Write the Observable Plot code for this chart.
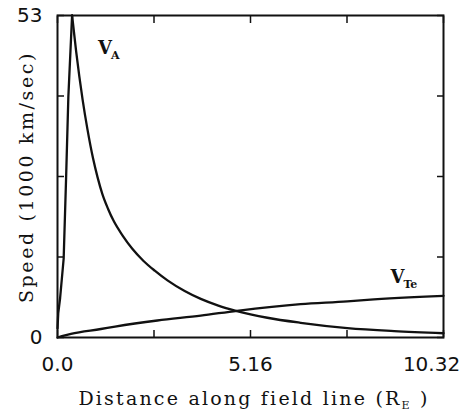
<!DOCTYPE html>
<html>
<head>
<meta charset="utf-8">
<script src="https://cdn.jsdelivr.net/npm/d3@7"></script>
<script src="https://cdn.jsdelivr.net/npm/@observablehq/plot@0.6"></script>
<style>
  html, body { margin: 0; padding: 0; background: #fff; }
  svg { display: block; }
</style>
</head>
<body>
<div id="chart"></div>
<script>
// Alfvén speed V_A along the field line
const vaX = [0, 0.02, 0.07, 0.165, 0.23, 0.29, 0.39, 0.5, 0.67, 0.8, 0.95, 1.07, 1.2, 1.35, 1.5, 1.75, 2.0, 2.3, 2.6, 2.94, 3.4, 3.83, 4.3, 4.77, 5.61, 6.5, 7.75, 9.0, 10.32];
const vaV = [1.5, 4, 6.5, 13, 26.3, 39.6, 53, 47.0, 39.2, 34.3, 29.5, 26.4, 23.6, 21.2, 19.2, 16.7, 14.6, 12.6, 11.0, 9.4, 7.65, 6.35, 5.25, 4.4, 3.25, 2.42, 1.55, 1.05, 0.7];
const vaPeakX = 0.39;
// Electron thermal speed V_Te
const vteX = [0, 0.2, 0.36, 1.16, 1.54, 2.67, 3.83, 4.8, 6.5, 7.75, 8.28, 10.32];
const vteV = [0, 0.35, 0.6, 1.4, 1.8, 2.8, 3.6, 4.4, 5.5, 5.95, 6.2, 6.85];

// Axes
const xDomain = [0, 10.32];
const yDomain = [0, 53];
const xTicks = [0, 2.58, 5.16, 7.74, 10.32];
const xTickLabels = [0, 5.16];
const xLastLabel = [10.32];
const yTicks = [0, 13.25, 26.5, 39.75, 53];
const yTickLabels = [0, 53];

// Curve labels
const labelMain = ["V", "V"];
const labelSub = ["A", "Te"];
const labelX = [1.08, 8.9];
const labelY = [46.7, 9.05];

const va = vaX.map((x, i) => ({x, v: vaV[i]}));
const vaRise = va.filter(d => d.x <= vaPeakX);
const vaFall = va.filter(d => d.x >= vaPeakX);
const vte = vteX.map((x, i) => ({x, v: vteV[i]}));
const labels = labelMain.map((m, i) => ({m, s: labelSub[i], x: labelX[i], y: labelY[i]}));

const fmtX = d => d === 0 ? "0.0" : String(d);

const plot = Plot.plot({
  width: 474,
  height: 419,
  marginLeft: 57,
  marginRight: 31,
  marginTop: 15,
  marginBottom: 82,
  style: {fontFamily: "DejaVu Sans", fontSize: "20px", color: "#111", background: "#fff"},
  x: {domain: xDomain},
  y: {domain: yDomain},
  marks: [
    Plot.axisX({anchor: "bottom", ticks: xTicks, tickSize: -7, tickFormat: () => "", label: null, strokeWidth: 1.5}),
    Plot.axisX({anchor: "top", ticks: xTicks, tickSize: -7, tickFormat: () => "", label: null, strokeWidth: 1.5}),
    Plot.axisY({anchor: "left", ticks: yTicks, tickSize: -7, tickFormat: () => "", label: null, strokeWidth: 1.5}),
    Plot.axisY({anchor: "right", ticks: yTicks, tickSize: -7, tickFormat: () => "", label: null, strokeWidth: 1.5}),
    Plot.axisX({anchor: "bottom", ticks: xTickLabels, tickSize: 0, tickPadding: 19, tickFormat: fmtX, label: null, fontSize: 20}),
    Plot.axisX({anchor: "bottom", ticks: xLastLabel, tickSize: 0, tickPadding: 19, tickFormat: fmtX, label: null, fontSize: 20, dx: -12}),
    Plot.axisY({anchor: "left", ticks: yTickLabels, tickSize: 0, tickPadding: 15, tickFormat: d => String(d), label: null, fontSize: 20}),
    Plot.frame({stroke: "#111", strokeWidth: 2}),
    Plot.line(vaRise, {x: "x", y: "v", stroke: "#111", strokeWidth: 2.3}),
    Plot.line(vaFall, {x: "x", y: "v", stroke: "#111", strokeWidth: 2.3, curve: "monotone-x"}),
    Plot.line(vte, {x: "x", y: "v", stroke: "#111", strokeWidth: 2.3, curve: "monotone-x"}),
    Plot.text(labels, {x: "x", y: "y", text: "m", textAnchor: "start", lineAnchor: "bottom", fontFamily: "DejaVu Serif", fontWeight: "bold", fontSize: 18, fill: "#111"}),
    Plot.text(labels, {x: "x", y: "y", text: "s", textAnchor: "start", lineAnchor: "bottom", dx: 13, dy: 5, fontFamily: "DejaVu Serif", fontWeight: "bold", fontSize: 11, fill: "#111"})
  ]
});

document.getElementById("chart").appendChild(plot);

// Axis titles (with subscript)
const svg = d3.select(plot);
const xt = svg.append("text")
  .attr("x", 254).attr("y", 405)
  .attr("text-anchor", "middle")
  .attr("font-family", "DejaVu Serif")
  .attr("font-size", 19)
  .attr("letter-spacing", 2.2)
  .attr("fill", "#111");
xt.append("tspan").text("Distance along field line (R");
xt.append("tspan").attr("font-size", 11).attr("dy", 4).text("E");
xt.append("tspan").attr("dy", -4).text(" )");

svg.append("text")
  .attr("transform", "translate(33,177) rotate(-90)")
  .attr("text-anchor", "middle")
  .attr("font-family", "DejaVu Serif")
  .attr("font-size", 19)
  .attr("letter-spacing", 2.6)
  .attr("fill", "#111")
  .text("Speed (1000 km/sec)");
</script>
</body>
</html>
